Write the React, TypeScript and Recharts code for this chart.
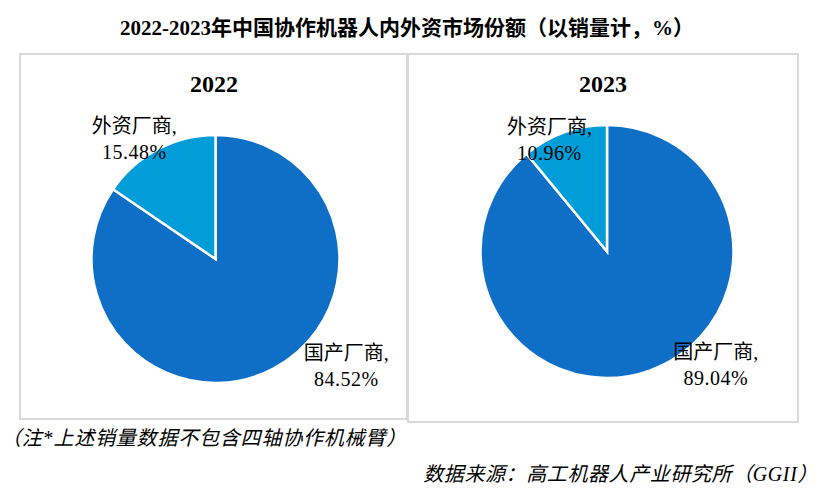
import React from 'react';
import { PieChart, Pie, Cell } from 'recharts';

const categories = ['国产厂商', '外资厂商'];
const years = ['2022', '2023'];
const share2022 = [84.52, 15.48];
const share2023 = [89.04, 10.96];
const colors = ['#0F6FC6', '#009DD9'];
const title = '2022-2023年中国协作机器人内外资市场份额（以销量计，%）';
const note = '（注*上述销量数据不包含四轴协作机械臂）';
const source = '数据来源：高工机器人产业研究所（GGII）';

const data2022 = categories.map((name, i) => ({ name, value: share2022[i] }));
const data2023 = categories.map((name, i) => ({ name, value: share2023[i] }));

const FONT = "'Liberation Serif', 'Noto Sans CJK SC', serif";

// label placement, in units of the pie radius, relative to pie centre
const makeLabel = (offsets: number[][]) => (props: any) => {
  const { cx, cy, outerRadius, index } = props;
  const name = props.name ?? categories[index];
  const value = Number(props.value);
  const [fx, fy] = offsets[index];
  const x = Number(cx) + Number(outerRadius) * fx;
  const y = Number(cy) + Number(outerRadius) * fy;
  const common = {
    x,
    textAnchor: 'middle' as const,
    dominantBaseline: 'central' as const,
    fontFamily: FONT,
    fontSize: 20,
    fill: '#000',
  };
  return (
    <g key={`lbl-${index}`}>
      <text {...common} y={y - 13}>{`${name},`}</text>
      <text {...common} y={y + 13} letterSpacing={0.5}>{`${value.toFixed(2)}%`}</text>
    </g>
  );
};

const label2022 = makeLabel([
  [1.055, 0.86],
  [-0.655, -0.965],
]);
const label2023 = makeLabel([
  [0.86, 0.9],
  [-0.455, -0.885],
]);

const textBox = (
  text: string,
  left: number,
  top: number,
  width: number,
  height: number,
  extra: React.CSSProperties = {}
) => (
  <div
    style={{
      position: 'absolute',
      left,
      top,
      width,
      height,
      lineHeight: `${height}px`,
      whiteSpace: 'nowrap',
      fontFamily: FONT,
      color: '#000',
      ...extra,
    }}
  >
    {text}
  </div>
);

export default function App() {
  return (
    <div
      style={{
        position: 'absolute',
        left: 0,
        top: 0,
        width: 824,
        height: 498,
        background: '#fff',
        overflow: 'hidden',
      }}
    >
      {textBox(title, 0, 14, 814, 28, { textAlign: 'center', fontSize: 21, fontWeight: 'bold' })}
      <div
        style={{
          position: 'absolute',
          left: 19,
          top: 53,
          width: 389,
          height: 367,
          border: '2px solid #D9D9D9',
          boxSizing: 'border-box',
        }}
      />
      <div
        style={{
          position: 'absolute',
          left: 407,
          top: 53,
          width: 392,
          height: 370,
          border: '2px solid #D9D9D9',
          boxSizing: 'border-box',
        }}
      />
      {textBox(years[0], 164, 68, 100, 32, { textAlign: 'center', fontSize: 24, fontWeight: 'bold' })}
      {textBox(years[1], 553, 68, 100, 32, { textAlign: 'center', fontSize: 24, fontWeight: 'bold' })}
      <div style={{ position: 'absolute', left: 0, top: 0 }}>
        <PieChart width={824} height={498} margin={{ top: 0, right: 0, bottom: 0, left: 0 }}>
          <Pie
            data={data2022}
            dataKey="value"
            nameKey="name"
            cx={215.5}
            cy={259}
            outerRadius={124}
            startAngle={90}
            endAngle={-270}
            stroke="#FFFFFF"
            strokeWidth={2.5}
            isAnimationActive={false}
            labelLine={false}
            label={label2022}
          >
            {data2022.map((d, i) => (
              <Cell key={d.name} fill={colors[i]} />
            ))}
          </Pie>
          <Pie
            data={data2023}
            dataKey="value"
            nameKey="name"
            cx={607}
            cy={251.5}
            outerRadius={126.5}
            startAngle={90}
            endAngle={-270}
            stroke="#FFFFFF"
            strokeWidth={2.5}
            isAnimationActive={false}
            labelLine={false}
            label={label2023}
          >
            {data2023.map((d, i) => (
              <Cell key={d.name} fill={colors[i]} />
            ))}
          </Pie>
        </PieChart>
      </div>
      {textBox(note, 1, 425, 420, 26, { fontSize: 20, fontStyle: 'italic', letterSpacing: 0.8 })}
      {textBox(source, 370, 461, 448, 26, {
        fontSize: 20,
        fontStyle: 'italic',
        textAlign: 'right',
        letterSpacing: 0.6,
      })}
    </div>
  );
}
